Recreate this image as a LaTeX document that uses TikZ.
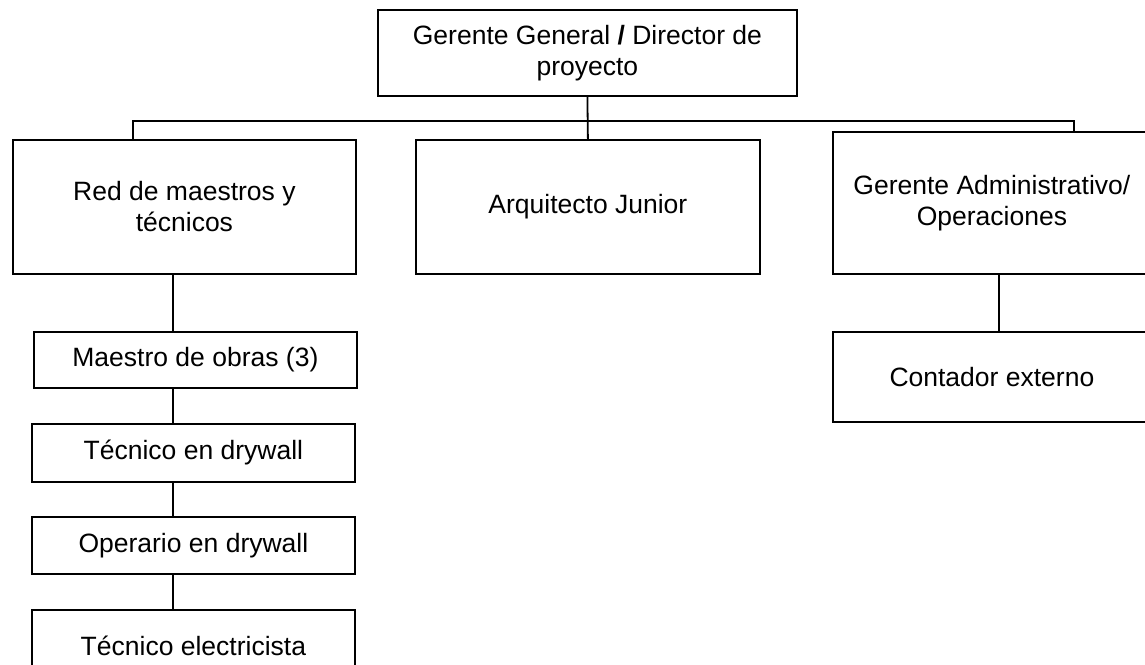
\documentclass[tikz,border=0pt]{standalone}
\usepackage{fontspec}
\setmainfont{Liberation Sans}
\usetikzlibrary{positioning,calc}
\tikzset{
  box/.style={rectangle, draw=black, line width=1.8pt, align=center, anchor=north west, inner sep=0pt, font=\fontsize{26.5}{31}\selectfont},
  link/.style={draw=black, line width=1.8pt}
}
\begin{document}
\begin{tikzpicture}[x=1pt, y=-1pt]
\useasboundingbox (0,0) rectangle (1145,664);
% top
\node[box, minimum width=419pt, minimum height=86pt] (gg) at (377,9) {Gerente General \textbf{/} Director de\\proyecto};
% second level
\node[box, minimum width=343pt, minimum height=134pt] (red) at (12,139) {Red de maestros y\\t\'ecnicos};
\node[box, minimum width=344pt, minimum height=134pt] (arq) at (415,139) {Arquitecto Junior};
\node[box, minimum width=318pt, minimum height=142pt] (adm) at (832,131) {Gerente Administrativo/\\Operaciones};
% left column
\node[box, minimum width=323pt, minimum height=56pt] (mae) at (33,331) {Maestro de obras (3)};
\node[box, minimum width=323pt, minimum height=58pt] (tdr) at (31,423) {T\'ecnico en drywall};
\node[box, minimum width=323pt, minimum height=57pt] (ope) at (31,516) {Operario en drywall};
\node[box, minimum width=323pt, minimum height=71pt] (tel) at (31,609) {T\'ecnico electricista};
% right column
\node[box, minimum width=318pt, minimum height=90pt] (con) at (832,331) {Contador externo};
% bus
\coordinate (busL) at (133,121);
\coordinate (busR) at (1074,121);
\coordinate (stemL) at (173,0);
\coordinate (stemR) at (999,0);
\draw[link] (gg.south) -- (arq.north);
\draw[link] (busL |- red.north) -- (busL) -- (busR) -- (busR |- adm.north);
\draw[link] (red.south -| stemL) -- (mae.north -| stemL);
\draw[link] (mae.south -| stemL) -- (tdr.north -| stemL);
\draw[link] (tdr.south -| stemL) -- (ope.north -| stemL);
\draw[link] (ope.south -| stemL) -- (tel.north -| stemL);
\draw[link] (adm.south -| stemR) -- (con.north -| stemR);
\end{tikzpicture}
\end{document}
